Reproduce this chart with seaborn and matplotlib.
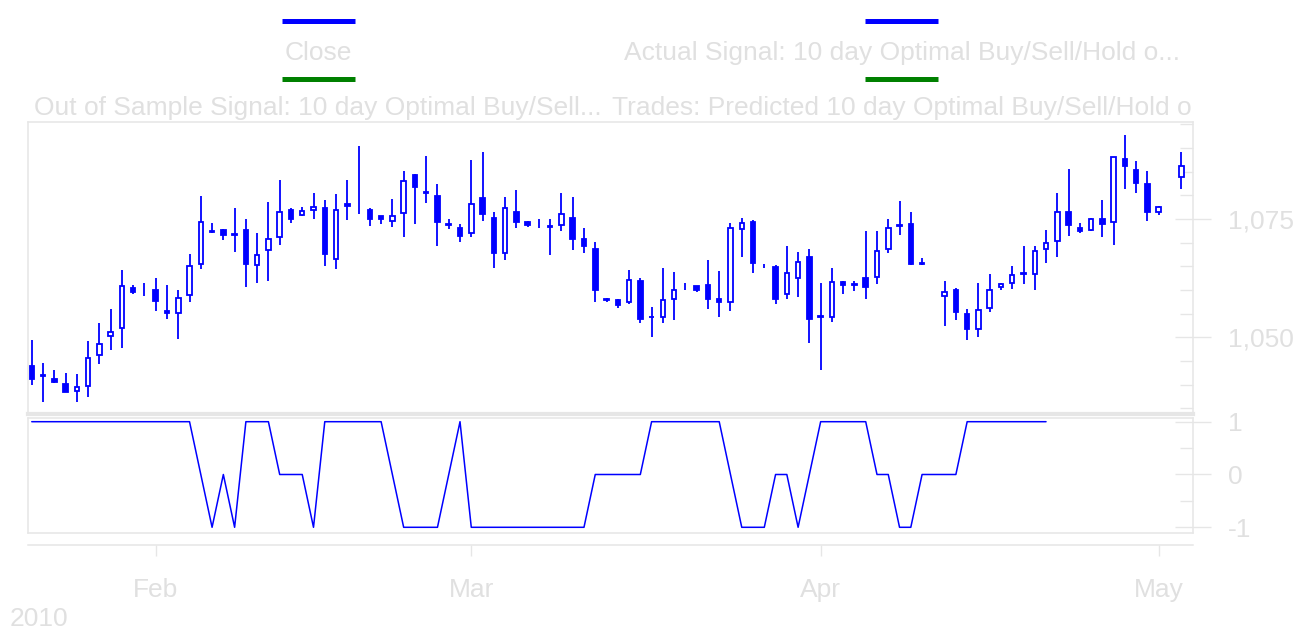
import numpy as np
import pandas as pd
import matplotlib
matplotlib.use("Agg")
import matplotlib.pyplot as plt
import matplotlib.dates as mdates
from matplotlib.lines import Line2D
from matplotlib.ticker import FuncFormatter, MultipleLocator
import seaborn as sns

# ---------------- data ----------------
start_date = "2010-01-21"
end_date = "2010-05-03"
missing_days = ["2010-04-11", "2010-05-02"]

open_ = [1043.9, 1041.8, 1041.3, 1040.1, 1038.7, 1039.8, 1046.2, 1050.2, 1051.9, 1060.5,
         1060.0, 1059.9, 1055.6, 1055.2, 1058.9, 1065.6, 1072.2, 1072.7, 1071.7, 1072.7,
         1065.3, 1068.5, 1071.1, 1076.8, 1075.8, 1076.9, 1077.3, 1066.5, 1078.2, 1076.2,
         1077.0, 1075.6, 1074.6, 1076.3, 1084.4, 1080.6, 1079.9, 1073.8, 1073.2, 1072.0,
         1079.4, 1075.3, 1067.9, 1076.4, 1074.4, 1074.0, 1073.4, 1073.8, 1075.3, 1070.7,
         1068.6, 1057.8, 1057.8, 1057.5, 1062.0, 1054.2, 1054.2, 1058.0, 1060.7, 1060.8,
         1061.1, 1058.2, 1057.5, 1072.9, 1074.4, 1065.1, 1064.9, 1059.2, 1062.5, 1066.9,
         1054.3, 1054.2, 1061.7, 1061.0, 1062.5, 1062.7, 1068.6, 1073.6, 1073.9, 1065.5,
         1058.7, 1059.9, 1055.0, 1051.7, 1056.1, 1060.7, 1061.5, 1063.4, 1063.3, 1068.6,
         1070.3, 1076.5, 1073.2, 1072.7, 1074.9, 1074.4, 1087.7, 1085.4, 1082.5, 1076.4,
         1083.9]
high = [1049.4, 1044.5, 1043.1, 1042.5, 1042.2, 1049.2, 1053.0, 1055.9, 1064.2, 1061.1,
        1061.4, 1062.5, 1061.1, 1059.9, 1067.7, 1079.9, 1074.2, 1072.8, 1077.4, 1075.0,
        1072.1, 1078.5, 1083.2, 1077.3, 1077.6, 1080.6, 1079.0, 1080.3, 1083.2, 1090.5,
        1077.3, 1075.7, 1079.2, 1085.2, 1084.6, 1088.4, 1082.3, 1075.0, 1073.9, 1087.5,
        1089.2, 1076.4, 1079.7, 1081.1, 1074.6, 1075.1, 1075.0, 1080.6, 1079.6, 1073.2,
        1070.1, 1058.4, 1058.0, 1064.2, 1062.5, 1056.4, 1064.6, 1063.7, 1061.4, 1060.9,
        1066.3, 1064.0, 1074.1, 1075.3, 1074.8, 1065.5, 1065.3, 1069.2, 1068.1, 1068.7,
        1061.4, 1064.6, 1062.0, 1062.0, 1072.5, 1072.5, 1075.0, 1078.9, 1076.4, 1066.7,
        1061.9, 1060.5, 1056.0, 1061.4, 1063.4, 1061.4, 1065.1, 1069.2, 1069.2, 1072.7,
        1080.6, 1085.5, 1074.1, 1075.3, 1079.0, 1088.0, 1092.7, 1087.2, 1085.1, 1077.7,
        1089.2]
low = [1039.9, 1036.4, 1040.3, 1038.4, 1036.4, 1037.3, 1044.3, 1047.3, 1047.8, 1059.2,
       1058.8, 1055.6, 1053.9, 1049.6, 1057.4, 1064.4, 1072.1, 1070.6, 1068.1, 1060.6,
       1061.4, 1062.0, 1069.6, 1074.2, 1075.7, 1075.1, 1065.1, 1064.4, 1074.8, 1076.0,
       1073.6, 1073.9, 1073.4, 1071.1, 1073.9, 1078.3, 1069.3, 1072.8, 1070.1, 1071.3,
       1074.6, 1064.6, 1066.4, 1073.2, 1073.4, 1073.0, 1067.3, 1072.5, 1068.5, 1067.9,
       1057.4, 1057.4, 1056.3, 1057.1, 1053.0, 1050.1, 1053.0, 1053.7, 1060.0, 1059.6,
       1056.0, 1054.4, 1055.6, 1067.0, 1063.5, 1064.7, 1057.1, 1058.0, 1058.6, 1048.7,
       1043.0, 1053.3, 1059.2, 1059.8, 1058.0, 1061.2, 1067.9, 1071.6, 1065.3, 1065.3,
       1052.3, 1053.7, 1049.4, 1050.1, 1055.3, 1060.1, 1060.3, 1061.2, 1060.1, 1065.8,
       1067.0, 1071.4, 1072.0, 1072.5, 1071.1, 1069.6, 1081.3, 1080.6, 1074.6, 1075.9,
       1081.3]
close = [1041.3, 1042.0, 1040.5, 1038.5, 1039.5, 1045.7, 1048.5, 1051.2, 1060.8, 1059.6,
         1060.0, 1057.7, 1055.1, 1058.4, 1065.1, 1074.4, 1072.4, 1071.6, 1071.9, 1065.6,
         1067.4, 1070.7, 1076.4, 1075.1, 1076.7, 1077.6, 1067.6, 1077.0, 1077.8, 1076.2,
         1075.1, 1074.9, 1075.6, 1083.1, 1081.8, 1080.8, 1074.3, 1074.0, 1071.4, 1078.2,
         1076.0, 1067.9, 1077.3, 1074.3, 1073.7, 1074.0, 1073.6, 1076.1, 1070.8, 1069.4,
         1060.0, 1058.0, 1056.8, 1062.2, 1053.9, 1054.4, 1057.8, 1060.1, 1060.7, 1060.0,
         1058.2, 1057.4, 1073.2, 1074.1, 1065.8, 1065.1, 1058.0, 1063.6, 1066.0, 1053.9,
         1054.5, 1061.6, 1061.0, 1061.2, 1060.7, 1068.3, 1073.2, 1073.8, 1065.5, 1065.7,
         1059.6, 1055.4, 1051.7, 1055.8, 1060.1, 1061.3, 1063.1, 1063.6, 1068.2, 1070.0,
         1076.4, 1073.7, 1072.5, 1075.0, 1074.0, 1088.0, 1086.3, 1082.7, 1076.4, 1077.5,
         1086.1]

signal_start = "2010-01-21"
signal = [1, 1, 1, 1, 1, 1, 1, 1, 1, 1, 1, 1, 1, 1, 1, 0, -1, 0, -1, 1,
          1, 1, 0, 0, 0, -1, 1, 1, 1, 1, 1, 1, 0, -1, -1, -1, -1, 0, 1, -1,
          -1, -1, -1, -1, -1, -1, -1, -1, -1, -1, 0, 0, 0, 0, 0, 1, 1, 1, 1, 1,
          1, 1, 0, -1, -1, -1, 0, 0, -1, 0, 1, 1, 1, 1, 1, 0, 0, -1, -1, 0,
          0, 0, 0, 1, 1, 1, 1, 1, 1, 1, 1]

legend_labels = ["Close",
                 "Actual Signal: 10 day Optimal Buy/Sell/Hold o...",
                 "Out of Sample Signal: 10 day Optimal Buy/Sell...",
                 "Trades: Predicted 10 day Optimal Buy/Sell/Hold o"]
legend_colors = ["#0000ff", "#0000ff", "#008000", "#008000"]
year_label = "2010"

# ---------------- style ----------------
sns.set_theme(style="white")
plt.rcParams["font.family"] = ["Liberation Sans", "DejaVu Sans"]
plt.rcParams["axes.unicode_minus"] = False

BLUE = "#0000ff"
FRAME = "#e6e6e6"
TXT = "#e0e0e0"
FS = 19

W, H = 1295, 632
fig = plt.figure(figsize=(W / 100, H / 100), dpi=100)
fig.patch.set_facecolor("white")


def fx(px):
    return px / W


def fy(py):
    return 1 - py / H


L, R = 27.7, 1193
ax1 = fig.add_axes([fx(L), fy(414), fx(R) - fx(L), fy(122) - fy(414)])
ax2 = fig.add_axes([fx(L), fy(533), fx(R) - fx(L), fy(418) - fy(533)])
ax3 = fig.add_axes([fx(L), fy(545), fx(R) - fx(L), 0.0001])

dates_all = pd.date_range(start_date, end_date, freq="D")
candle_dates = dates_all[~dates_all.isin(pd.to_datetime(missing_days))]
xc = mdates.date2num(candle_dates.values)
sig_dates = pd.date_range(signal_start, periods=len(signal), freq="D")
xs = mdates.date2num(sig_dates.values)

o = np.array(open_)
c = np.array(close)
hi = np.array(high)
lo = np.array(low)

# ---------------- candles ----------------
ax1.vlines(xc, lo, hi, color=BLUE, linewidth=1.3, zorder=1)
has_body = o != c
up = (c > o) & has_body
down = (c < o) & has_body
bw = 0.4
ax1.bar(xc[up], (c - o)[up], bottom=o[up], width=bw, facecolor="white",
        edgecolor=BLUE, linewidth=1.3, zorder=2)
ax1.bar(xc[down], (c - o)[down], bottom=o[down], width=bw, facecolor=BLUE,
        edgecolor=BLUE, linewidth=1.3, zorder=2)

# ---------------- signal ----------------
sns.lineplot(x=xs, y=signal, ax=ax2, color=BLUE, linewidth=1.1)

x0 = mdates.date2num(pd.Timestamp(start_date)) - 0.36
x1 = mdates.date2num(pd.Timestamp(start_date)) + 103.04
for ax in (ax1, ax2, ax3):
    ax.set_xlim(x0, x1)
    ax.set_facecolor("white")
    ax.set_xlabel("")
    ax.set_ylabel("")

ax1.set_ylim(1033.8, 1095.5)
ax2.set_ylim(-1.108, 1.07)

# frames
for ax in (ax1, ax2):
    for s in ax.spines.values():
        s.set_visible(True)
        s.set_color(FRAME)
        s.set_linewidth(1.1)
ax1.spines["bottom"].set_linewidth(3.0)

# y axes on the right
for ax, major, minor, fmt in ((ax1, 25, 5, lambda v, p: f"{v:,.0f}"),
                              (ax2, 1, 0.5, lambda v, p: f"{int(round(v))}")):
    ax.yaxis.tick_right()
    ax.yaxis.set_major_locator(MultipleLocator(major))
    ax.yaxis.set_minor_locator(MultipleLocator(minor))
    ax.yaxis.set_major_formatter(FuncFormatter(fmt))
    ax.tick_params(axis="y", which="major", direction="inout", length=26, width=1,
                   color=FRAME, pad=12, labelsize=FS, labelcolor=TXT,
                   left=False, right=True)
    ax.tick_params(axis="y", which="minor", direction="in", length=9.5, width=1,
                   color=FRAME, left=False, right=True)
    ax.tick_params(axis="x", which="both", bottom=False, top=False, labelbottom=False)

# x axis
for name, s in ax3.spines.items():
    s.set_visible(name == "bottom")
ax3.spines["bottom"].set_color(FRAME)
ax3.spines["bottom"].set_linewidth(1.1)
ax3.set_yticks([])
ax3.xaxis.set_major_locator(mdates.MonthLocator())
ax3.xaxis.set_major_formatter(mdates.DateFormatter("%b"))
ax3.tick_params(axis="x", which="major", direction="out", length=8, width=1,
                color=FRAME, pad=16, labelsize=FS, labelcolor=TXT, bottom=True)
ax3.patch.set_alpha(0)

fig.text(fx(10), fy(631), year_label, fontsize=FS, color=TXT, ha="left", va="bottom")

# ---------------- legend ----------------
col_line = [(282, 355), (865, 938), (282, 355), (865, 938)]
col_center = [318, 902, 318, 902]
line_y = [20.5, 20.5, 78.5, 78.5]
text_y = [60, 60, 115, 115]
for lab, col, (a, b), cx, ly, ty in zip(legend_labels, legend_colors, col_line,
                                         col_center, line_y, text_y):
    fig.add_artist(Line2D([fx(a), fx(b)], [fy(ly), fy(ly)], color=col, linewidth=3.6,
                          transform=fig.transFigure, solid_capstyle="butt"))
    fig.text(fx(cx), fy(ty), lab, fontsize=FS, color=TXT, ha="center", va="baseline")

fig.savefig("out.png", dpi=100, facecolor="white")
